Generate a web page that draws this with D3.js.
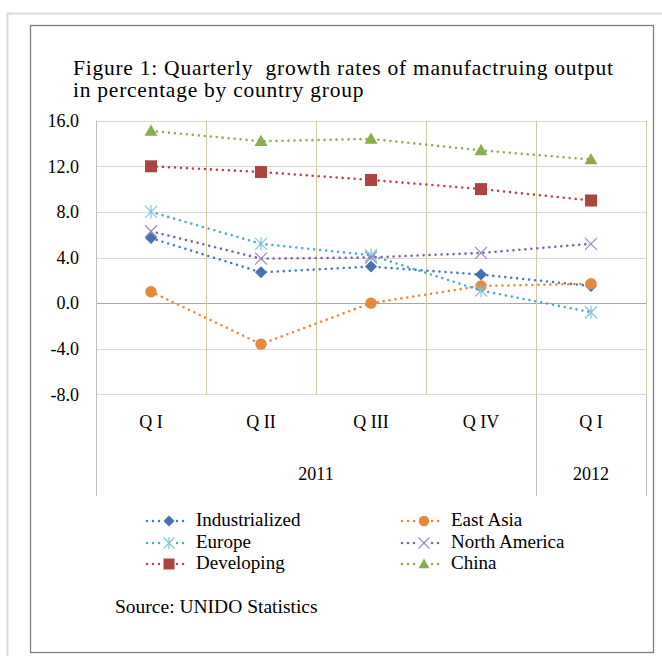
<!DOCTYPE html>
<html><head><meta charset="utf-8">
<script src="https://cdn.jsdelivr.net/npm/d3@7"></script>
<style>
html,body{margin:0;padding:0;background:#fff;}
svg text{font-family:"Liberation Serif","Times New Roman",serif;fill:#000;white-space:pre;}
</style></head>
<body>
<svg id="c" width="662" height="656"></svg>
<script>
const quarters = ["Q I","Q II","Q III","Q IV","Q I"];
const years = [{label:"2011", from:0, to:3},{label:"2012", from:4, to:4}];
const yTicks = [-8,-4,0,4,8,12,16];
const seriesNames = ["Industrialized","East Asia","Europe","North America","Developing","China"];
const industrialized = [5.7, 2.7, 3.2, 2.5, 1.5];
const eastAsia = [1.0, -3.6, 0.0, 1.5, 1.7];
const europe = [8.0, 5.2, 4.2, 1.1, -0.8];
const northAmerica = [6.3, 3.9, 4.0, 4.4, 5.2];
const developing = [12.0, 11.5, 10.8, 10.0, 9.0];
const china = [15.1, 14.2, 14.4, 13.4, 12.6];
const seriesValues = [industrialized, eastAsia, europe, northAmerica, developing, china];
const colors = ["#4A7CB8","#E8883C","#4BACC6","#7F60A2","#B3474A","#8DB04E"];
const markerColors = ["#4672AE","#E58A3C","#7FC6D8","#9C88BE","#AC4542","#8AAE4E"];
const markers = ["diamond","circle","star","x","square","triangle"];
const FONT = '"Liberation Serif","Times New Roman",serif';

const svg = d3.select("#c");
// frames
svg.append("rect").attr("x",7.5).attr("y",13.5).attr("width",670).attr("height",660)
  .attr("fill","none").attr("stroke","#d9d9d9").attr("stroke-width",2);
svg.append("rect").attr("x",30.5).attr("y",25.5).attr("width",623).attr("height",627)
  .attr("fill","#fff").attr("stroke","#7f7f7f").attr("stroke-width",1.3);

// title
svg.append("text").attr("x",73).attr("y",75).style("font-size","21.5px").style("letter-spacing","0.75px")
  .text("Figure 1: Quarterly  growth rates of manufactruing output");
svg.append("text").attr("x",73).attr("y",97).style("font-size","21.5px").style("letter-spacing","0.75px")
  .text("in percentage by country group");

const x = d3.scaleBand().domain(d3.range(quarters.length)).range([96,646]).padding(0);
const y = d3.scaleLinear().domain([-8,16]).range([394.3,120.7]);

const g = svg.append("g");
// horizontal gridlines
g.selectAll("line.h").data(yTicks).join("line")
  .attr("x1",96).attr("x2",646)
  .attr("y1",d=>Math.round(y(d))+0.5).attr("y2",d=>Math.round(y(d))+0.5)
  .attr("stroke",d=>d===0?"#a6a6a6":"#d9d9d9").attr("stroke-width",1);
// vertical gridlines (tan)
g.selectAll("line.v").data(d3.range(1,quarters.length+1)).join("line")
  .attr("x1",d=>Math.round(x(d-1)+x.bandwidth())+0.5).attr("x2",d=>Math.round(x(d-1)+x.bandwidth())+0.5)
  .attr("y1",y(16)).attr("y2",y(-8))
  .attr("stroke","#d4cba2").attr("stroke-width",1);
// category axis separators
const sepIdx = [0, 4, 5];
g.selectAll("line.s").data(sepIdx).join("line")
  .attr("x1",d=>Math.round(d<5?x(d):x(4)+x.bandwidth())+0.5)
  .attr("x2",d=>Math.round(d<5?x(d):x(4)+x.bandwidth())+0.5)
  .attr("y1",d=>d===0?y(16):y(-8)).attr("y2",496)
  .attr("stroke","#bfbfbf").attr("stroke-width",1);

// y axis labels
const yAxis = d3.axisLeft(y).tickValues(yTicks).tickSize(0).tickPadding(0).tickFormat(d=>d.toFixed(1));
const ya = svg.append("g").attr("transform","translate(79,0)").call(yAxis).attr("font-family",FONT).attr("font-size",18);
ya.select(".domain").remove();
ya.selectAll("text").style("font-size","18px").style("font-family",FONT).attr("dy","0.32em");

// x axis labels
const xAxis = d3.axisBottom(x).tickSize(0).tickPadding(0).tickFormat(i=>quarters[i]);
const xa = svg.append("g").attr("transform","translate(0,428)").call(xAxis).attr("font-family",FONT).attr("font-size",18);
xa.select(".domain").remove();
xa.selectAll("text").style("font-size","18px").style("font-family",FONT).attr("dy","0").attr("y",0);

svg.selectAll("text.yr").data(years).join("text")
  .attr("x",d=>(x(d.from)+x(d.to)+x.bandwidth())/2).attr("y",480)
  .attr("text-anchor","middle").style("font-size","18px").text(d=>d.label);

function drawMarker(sel, type, cx, cy, s, fill, stroke){
  const h = s/2;
  if(type==="diamond"){
    sel.append("path").attr("d",`M${cx},${cy-h}L${cx+h},${cy}L${cx},${cy+h}L${cx-h},${cy}Z`).attr("fill",fill);
  } else if(type==="circle"){
    sel.append("circle").attr("cx",cx).attr("cy",cy).attr("r",h*0.95).attr("fill",fill);
  } else if(type==="square"){
    sel.append("rect").attr("x",cx-h).attr("y",cy-h).attr("width",s).attr("height",s).attr("fill",fill);
  } else if(type==="triangle"){
    sel.append("path").attr("d",`M${cx},${cy-h}L${cx+h},${cy+h*0.75}L${cx-h},${cy+h*0.75}Z`).attr("fill",fill);
  } else if(type==="x"){
    sel.append("path").attr("d",`M${cx-h},${cy-h}L${cx+h},${cy+h}M${cx+h},${cy-h}L${cx-h},${cy+h}`)
      .attr("stroke",stroke).attr("stroke-width",1.2).attr("fill","none");
  } else if(type==="star"){
    sel.append("path").attr("d",`M${cx-h},${cy-h}L${cx+h},${cy+h}M${cx+h},${cy-h}L${cx-h},${cy+h}M${cx},${cy-h*1.1}L${cx},${cy+h*1.1}`)
      .attr("stroke",stroke).attr("stroke-width",1.2).attr("fill","none");
  }
}

const line = d3.line().x((d,i)=>x(i)+x.bandwidth()/2).y(d=>y(d));
seriesValues.forEach((vals,k)=>{
  const sg = svg.append("g");
  sg.append("path").attr("d",line(vals)).attr("fill","none")
    .attr("stroke",colors[k]).attr("stroke-width",2.6)
    .attr("stroke-linecap","round").attr("stroke-dasharray","0 6");
  vals.forEach((v,i)=>{
    const sz = markers[k]==="triangle"?13:12;
    drawMarker(sg, markers[k], x(i)+x.bandwidth()/2, y(v), sz, markerColors[k], markerColors[k]);
  });
});

// legend
const legCols = [147, 402];
const legRows = [521, 543, 564];
seriesNames.forEach((name,k)=>{
  const col = k%2, row = Math.floor(k/2);
  const lx = legCols[col], ly = legRows[row];
  const lg = svg.append("g");
  lg.append("line").attr("x1",lx).attr("x2",lx+41).attr("y1",ly).attr("y2",ly)
    .attr("stroke",colors[k]).attr("stroke-width",2.6)
    .attr("stroke-linecap","round").attr("stroke-dasharray","0 6");
  lg.append("rect").attr("x",lx+14).attr("y",ly-6).attr("width",15).attr("height",12).attr("fill","#fff");
  drawMarker(lg, markers[k], lx+22, ly, 11, markerColors[k], markerColors[k]);
  lg.append("text").attr("x",lx+49).attr("y",ly+4.5).style("font-size","19px").text(name);
});

svg.append("text").attr("x",115).attr("y",613).style("font-size","19.5px").text("Source: UNIDO Statistics");
</script>
</body></html>
